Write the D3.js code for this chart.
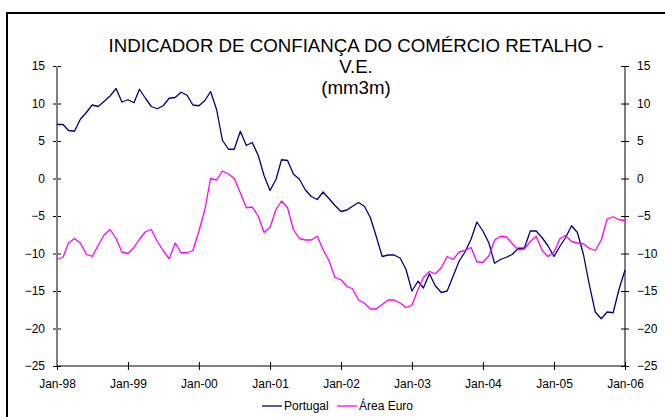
<!DOCTYPE html>
<html>
<head>
<meta charset="utf-8">
<script src="https://cdn.jsdelivr.net/npm/d3@7"></script>
<style>
  body { margin: 0; background: #fff; }
  svg { font-family: "Liberation Sans", Arial, sans-serif; }
</style>
</head>
<body>
<svg id="chart" width="665" height="417"></svg>
<script>
// monthly values, Jan-98 .. Jan-06
var portugal = [
    7.2, 7.2, 6.4, 6.3, 7.9, 8.8, 9.8, 9.6, 10.3, 11.0, 12.0, 10.2,
    10.5, 10.1, 11.9, 10.7, 9.6, 9.3, 9.7, 10.7, 10.8, 11.5, 11.1, 9.8,
    9.7, 10.4, 11.6, 9.2, 5.1, 3.9, 3.9, 6.3, 4.4, 4.8, 3.1, 0.4,
    -1.6, -0.1, 2.5, 2.4, 0.6, -0.1, -1.5, -2.4, -2.8, -1.8, -2.7, -3.6,
    -4.4, -4.2, -3.7, -3.2, -3.7, -5.2, -7.7, -10.4, -10.2, -10.2, -10.6, -12.1,
    -15.0, -13.7, -14.6, -12.7, -14.3, -15.2, -15.0, -13.0, -11.0, -9.8, -8.1, -5.8,
    -7.0, -8.6, -11.3, -10.8, -10.5, -10.1, -9.3, -9.3, -7.0, -7.0, -7.9, -9.0,
    -10.4, -9.0, -7.9, -6.3, -7.2, -10.1, -14.1, -17.8, -18.7, -17.8, -17.9, -14.8,
    -12.2];

var areaEuro = [
    -10.8, -10.5, -8.6, -8.0, -8.6, -10.1, -10.4, -8.9, -7.5, -6.8, -8.0, -9.8,
    -10.0, -9.2, -8.1, -7.1, -6.8, -8.4, -9.6, -10.7, -8.6, -9.9, -9.9, -9.6,
    -7.0, -4.1, 0.0, -0.2, 1.0, 0.6, 0.0, -1.9, -3.9, -3.8, -5.0, -7.2,
    -6.5, -4.1, -3.0, -3.9, -6.8, -8.0, -8.2, -8.2, -7.7, -9.5, -11.0, -13.2,
    -13.5, -14.4, -14.7, -16.2, -16.6, -17.4, -17.4, -16.8, -16.2, -16.2, -16.6, -17.2,
    -16.9, -14.8, -13.2, -12.4, -12.7, -11.9, -10.4, -10.8, -9.8, -9.6, -9.2, -11.1,
    -11.2, -10.3, -8.2, -7.7, -7.8, -8.7, -9.5, -9.4, -8.4, -7.7, -9.6, -10.4,
    -9.8, -8.0, -7.6, -8.4, -8.6, -8.7, -9.3, -9.6, -8.2, -5.4, -5.1, -5.5,
    -5.6];

var yTicks = [-25, -20, -15, -10, -5, 0, 5, 10, 15];
var xTicks = [1998, 1999, 2000, 2001, 2002, 2003, 2004, 2005, 2006];
var titleLines = ["INDICADOR DE CONFIANÇA DO COMÉRCIO RETALHO -", "V.E.", "(mm3m)"];
var seriesNames = ["Portugal", "Área Euro"];
var seriesColors = ["#000080", "#ff00ff"];

function drawChart() {
    var svg = d3.select("#chart");
    var pLeft = 57, pRight = 625, pTop = 66, pBottom = 366;

    //Outer frame of the chart
    svg.append("rect")
        .attr("x", 7).attr("y", 13)
        .attr("width", 700).attr("height", 500)
        .attr("fill", "none")
        .attr("stroke", "#000")
        .attr("stroke-width", 2);

    var x = d3.scaleTime()
        .domain([new Date(1998, 0, 1), new Date(2006, 0, 1)])
        .range([pLeft, pRight]);
    var y = d3.scaleLinear()
        .domain([-25, 15])
        .range([pBottom, pTop]);

    //Title
    svg.append("g")
        .selectAll("text")
        .data(titleLines)
        .enter()
        .append("text")
        .attr("x", 356)
        .attr("y", function (d, i) { return 52 + i * 21; })
        .attr("text-anchor", "middle")
        .style("font-size", "18.7px")
        .text(function (d) { return d; });

    //Axes with crossing tick marks
    function styleAxis(g, vertical) {
        g.select(".domain").remove();
        g.selectAll(".tick line")
            .attr(vertical ? "x1" : "y1", -4)
            .attr(vertical ? "x2" : "y2", 4)
            .attr("stroke", "#000");
        g.selectAll(".tick text")
            .style("font-size", "12px")
            .style("font-family", "'Liberation Sans', Arial, sans-serif")
            .attr("fill", "#000");
    }

    svg.append("g")
        .attr("transform", "translate(" + pLeft + ",0)")
        .call(d3.axisLeft(y).tickValues(yTicks).tickSize(4).tickPadding(8))
        .call(styleAxis, true);

    svg.append("g")
        .attr("transform", "translate(" + pRight + ",0)")
        .call(d3.axisRight(y).tickValues(yTicks).tickSize(4).tickPadding(8))
        .call(styleAxis, true);

    svg.append("g")
        .attr("transform", "translate(0," + pBottom + ")")
        .call(d3.axisBottom(x)
            .tickValues(xTicks.map(function (yr) { return new Date(yr, 0, 1); }))
            .tickFormat(d3.timeFormat("%b-%y"))
            .tickSize(4).tickPadding(9))
        .call(styleAxis, false);

    //Axis lines
    svg.append("line")
        .attr("x1", pLeft).attr("x2", pLeft).attr("y1", pTop).attr("y2", pBottom)
        .attr("stroke", "#808080").attr("stroke-width", 2);
    svg.append("line")
        .attr("x1", pRight).attr("x2", pRight).attr("y1", pTop).attr("y2", pBottom)
        .attr("stroke", "#000").attr("stroke-width", 1);
    svg.append("line")
        .attr("x1", pLeft).attr("x2", pRight).attr("y1", pBottom).attr("y2", pBottom)
        .attr("stroke", "#000").attr("stroke-width", 1);

    //Series lines
    var line = d3.line()
        .x(function (d, i) { return x(new Date(1998, i, 1)); })
        .y(function (d) { return y(d); });

    [portugal, areaEuro].forEach(function (s, k) {
        svg.append("path")
            .datum(s)
            .attr("d", line)
            .attr("fill", "none")
            .attr("stroke", seriesColors[k])
            .attr("stroke-width", 1.3)
            .attr("stroke-linejoin", "round");
    });

    //Legend
    var legendX = [262, 337];
    var lg = svg.selectAll(".legend")
        .data(seriesNames)
        .enter()
        .append("g")
        .attr("class", "legend");
    lg.append("line")
        .attr("x1", function (d, i) { return legendX[i]; })
        .attr("x2", function (d, i) { return legendX[i] + 20; })
        .attr("y1", 406).attr("y2", 406)
        .attr("stroke", function (d, i) { return seriesColors[i]; })
        .attr("stroke-width", 1.3);
    lg.append("text")
        .attr("x", function (d, i) { return legendX[i] + 22; })
        .attr("y", 410)
        .style("font-size", "12px")
        .text(function (d) { return d; });
}

drawChart();
</script>
</body>
</html>
